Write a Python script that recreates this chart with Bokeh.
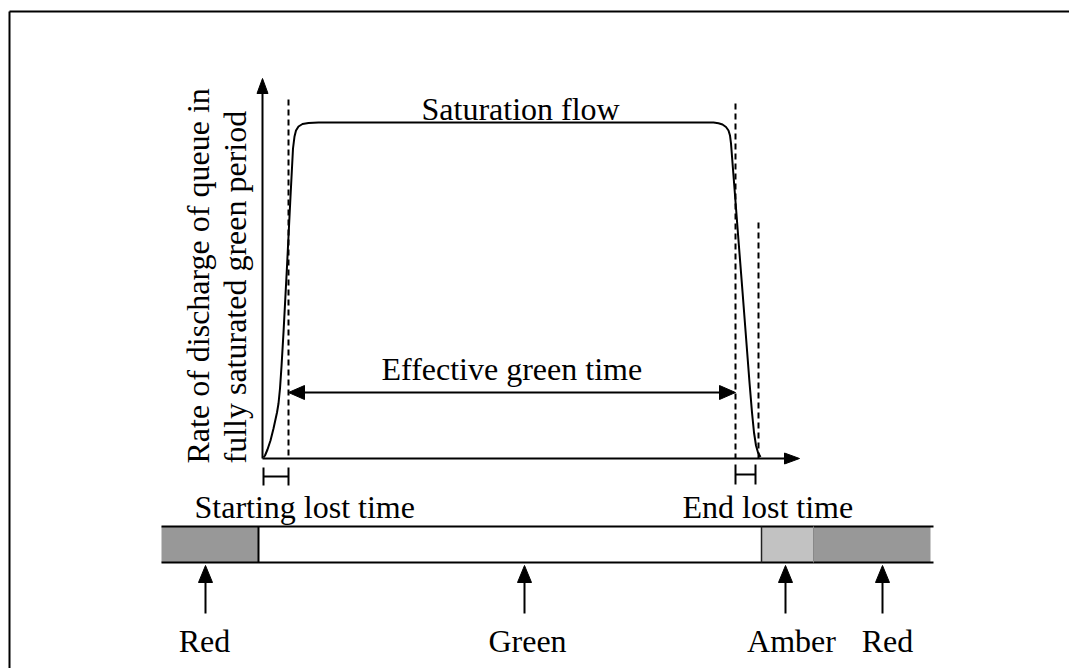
import math
from bokeh.plotting import figure
from bokeh.models import Range1d
from bokeh.core.properties import value
from bokeh.embed import file_html
from bokeh.resources import INLINE

# ---------------- data (drawing coordinates) ----------------
# discharge-rate curve: rise, saturation plateau, fall
rise_x = [263, 264.5, 267, 270, 273, 276.5, 278, 279.5, 281, 283, 286.5, 290, 292.5, 294, 295.5, 298, 302, 308, 318]
rise_y = [457, 455, 449, 440, 428, 412, 403, 388, 366, 332, 266, 196, 148, 136, 130, 126, 123.5, 122.5, 122]
fall_x = [705, 713, 718, 722, 725.5, 728, 729.5, 730.5, 734, 738, 742, 746, 749, 751.5, 753.5, 755.5, 757.5, 760]
fall_y = [122, 122, 122.8, 124, 126.5, 130, 135, 143, 188, 240, 291, 343, 382, 412, 432, 445, 452, 456.5]

origin_x, origin_y = 262, 458
y_axis_tip = 78
x_axis_tip = 799

dash_x = [288, 735, 758]          # start of effective green, end of effective green, end of amber
dash_top = [99, 103, 222]

effective_y = 392
lost_start = [263, 288]
lost_end = [735, 755]
lost_bar_y = [476, 474]
lost_bar_half = [9, 10]

phase_names = ["Red", "Green", "Amber", "Red"]
phase_edges = [161, 258, 761, 813, 930]
phase_colors = ["#989898", "#ffffff", "#c2c2c2", "#989898"]
phase_arrow_x = [205, 524, 785, 882]
phase_label_x = [204, 527, 791, 887]
bar_top, bar_bottom = 526, 562

ylabel_lines = ["Rate of discharge of queue in", "fully saturated green period"]
ylabel_baseline_x = [197, 234]

FONT = value("'Liberation Serif', 'Times New Roman', serif")

W, H = 1069, 668
p = figure(width=W, height=H, output_backend="svg", toolbar_location=None,
           x_range=Range1d(0, W), y_range=Range1d(H, 0),
           x_axis_location=None, y_axis_location=None, min_border=0,
           background_fill_color="white", border_fill_color="white")
p.outline_line_color = None
p.grid.visible = False


def head(tx, ty, dx, dy, length, half):
    bx, by = tx - dx * length, ty - dy * length
    px, py = -dy * half, dx * half
    return [tx, bx + px, bx - px], [ty, by + py, by - py]


heads_x, heads_y = [], []

# outer frame (only top and left edges visible)
p.line([9, W], [11, 11], line_color="black", line_width=2)
p.line([9, 9], [11, H], line_color="black", line_width=2)

# axes
p.line([origin_x, origin_x], [origin_y, y_axis_tip + 14], line_color="black", line_width=2)
p.line([origin_x, x_axis_tip - 14], [origin_y, origin_y], line_color="black", line_width=2)
hx, hy = head(origin_x, y_axis_tip, 0, -1, 15, 5.5); heads_x.append(hx); heads_y.append(hy)
hx, hy = head(x_axis_tip, origin_y, 1, 0, 15, 5.5); heads_x.append(hx); heads_y.append(hy)

# curve
curve_x = rise_x + fall_x
curve_y = rise_y + fall_y
p.line(curve_x, curve_y, line_color="black", line_width=2)

# dashed guides
for x0, t in zip(dash_x, dash_top):
    p.line([x0, x0], [t, origin_y], line_color="black", line_width=2, line_dash="6 4")

# effective green time double arrow
p.line([dash_x[0] + 10, dash_x[1] - 10], [effective_y, effective_y], line_color="black", line_width=2)
hx, hy = head(dash_x[0], effective_y, -1, 0, 16, 7); heads_x.append(hx); heads_y.append(hy)
hx, hy = head(dash_x[1], effective_y, 1, 0, 16, 7); heads_x.append(hx); heads_y.append(hy)

# lost time brackets
for (a, b), yb, hh in zip([lost_start, lost_end], lost_bar_y, lost_bar_half):
    p.line([a, b], [yb, yb], line_color="black", line_width=2)
    p.line([a, a], [yb - hh, yb + hh], line_color="black", line_width=2)
    p.line([b, b], [yb - hh, yb + hh], line_color="black", line_width=2)

# phase bar
p.quad(left=phase_edges[:-1], right=phase_edges[1:], top=[bar_top] * 4, bottom=[bar_bottom] * 4,
       fill_color=phase_colors, line_color=None)
p.line([phase_edges[0], phase_edges[-1] + 3], [bar_top, bar_top], line_color="black", line_width=2)
p.line([phase_edges[0], phase_edges[-1] + 3], [bar_bottom, bar_bottom], line_color="black", line_width=2)
p.line([phase_edges[1], phase_edges[1]], [bar_top, bar_bottom], line_color="black", line_width=2)
p.line([phase_edges[2], phase_edges[2]], [bar_top, bar_bottom], line_color="#222222", line_width=1.5)
p.line([phase_edges[3], phase_edges[3]], [bar_top, bar_bottom], line_color="#888888", line_width=1)

for ax in phase_arrow_x:
    p.line([ax, ax], [bar_bottom + 16, 613], line_color="black", line_width=2)
    hx, hy = head(ax, bar_bottom + 3, 0, -1, 17, 7); heads_x.append(hx); heads_y.append(hy)

p.patches(heads_x, heads_y, fill_color="black", line_color="black", line_width=1)

# texts
p.text(x=phase_label_x, y=[640] * 4, text=phase_names, text_font=FONT, text_font_size="32px",
       text_align="center", text_baseline="alphabetic", text_color="black")
p.text(x=[421], y=[108], text=["Saturation flow"], text_font=FONT, text_font_size="32px",
       text_align="left", text_baseline="alphabetic", text_color="black")
p.text(x=[381], y=[368], text=["Effective green time"], text_font=FONT, text_font_size="32px",
       text_align="left", text_baseline="alphabetic", text_color="black")
p.text(x=[194, 682], y=[506, 506], text=["Starting lost time", "End lost time"], text_font=FONT,
       text_font_size="32px", text_align="left", text_baseline="alphabetic", text_color="black")
p.text(x=ylabel_baseline_x, y=[463, 463], text=ylabel_lines, angle=math.pi / 2, text_font=FONT,
       text_font_size="32px", text_align="left", text_baseline="alphabetic", text_color="black")

open("out.html", "w").write(file_html(p, INLINE))
